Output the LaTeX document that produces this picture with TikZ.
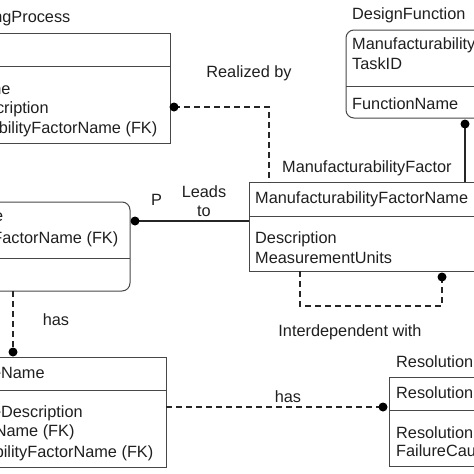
\documentclass[tikz,border=0pt]{standalone}
\usepackage{fontspec}
\setmainfont{Liberation Sans}
\usetikzlibrary{calc}

\tikzset{
  txt/.style={font=\fontsize{16.3}{20}\selectfont, inner sep=0pt, anchor=base west, text=black!88},
  ctxt/.style={txt, anchor=base},
  entbox/.style={draw=black!72, line width=1pt},
  idline/.style={draw=black!85, line width=1.3pt},
  nidline/.style={idline, dash pattern=on 6pt off 4pt},
  enddot/.style={fill=black},
}

\begin{document}
\begin{tikzpicture}[x=1pt,y=-1pt]
    \useasboundingbox (0,0) rectangle (474,474);
    \clip (0,0) rectangle (474,474);
    % ManufacturingProcess
    \node[txt] (mpT) at (-92,22) {ManufacturingProcess};
    \draw[entbox] (-98,33) rectangle (170,143);
    \draw[entbox] (-98,66) -- (170,66);
    \node[txt] (mpA) at (-92,94) {ProcessName};
    \node[txt] (mpB) at (-92,113) {ProcessDescription};
    \node[txt] (mpC) at (-92,133) {ManufacturabilityFactorName (FK)};
    % DesignFunction
    \node[txt] (dfT) at (352,19) {DesignFunction};
    \draw[entbox,rounded corners=8pt] (346,30) rectangle (500,118);
    \draw[entbox] (346,86) -- (500,86);
    \node[txt] (dfA) at (352,49) {ManufacturabilityFactorName (FK)};
    \node[txt] (dfB) at (352,69) {TaskID};
    \node[txt] (dfC) at (352,109) {FunctionName};
    % ManufacturabilityFactor
    \node[txt] (mfT) at (282,172) {ManufacturabilityFactor};
    \draw[entbox] (249,182) rectangle (484,271);
    \draw[entbox] (249,216) -- (484,216);
    \node[txt] (mfA) at (255,203) {ManufacturabilityFactorName};
    \node[txt] (mfB) at (255,243) {Description};
    \node[txt] (mfC) at (255,263) {MeasurementUnits};
    % FailureMode
    \draw[entbox,rounded corners=8pt] (-140,202) rectangle (130,291);
    \draw[entbox] (-140,258) -- (130,258);
    \node[txt] (fmA) at (-131,221) {FailureModeName};
    \node[txt] (fmB) at (-131,243) {ManufacturabilityFactorName (FK)};
    % FailureCause
    \draw[entbox] (-102,357) rectangle (166,467);
    \draw[entbox] (-102,390) -- (166,390);
    \node[txt] (fcA) at (-96,378) {FailureCauseName};
    \node[txt] (fcB) at (-96,417) {FailureCauseDescription};
    \node[txt] (fcC) at (-96,436) {FailureModeName (FK)};
    \node[txt] (fcD) at (-96,457) {ManufacturabilityFactorName (FK)};
    % Resolution
    \node[txt] (rsT) at (396,367) {Resolution};
    \draw[entbox] (389,377) rectangle (520,466);
    \draw[entbox] (389,410) -- (520,410);
    \node[txt] (rsA) at (396,398) {ResolutionName};
    \node[txt] (rsB) at (396,438) {ResolutionDescription};
    \node[txt] (rsC) at (396,456) {FailureCauseName (FK)};

    % relationship end points
    \coordinate (c0) at (174,107);
    \coordinate (c1) at (269,107);
    \coordinate (c2) at (269,182);
    \coordinate (c3) at (465,124);
    \coordinate (c4) at (465,182);
    \coordinate (c5) at (135,221);
    \coordinate (c6) at (249,221);
    \coordinate (c7) at (300,271);
    \coordinate (c8) at (442,277);
    \coordinate (c9) at (13,291);
    \coordinate (c10) at (13,352);
    \coordinate (c11) at (166,407);
    \coordinate (c12) at (383,407);

    \draw[nidline] (c0) -- (c1) -- (c2);
    \fill[enddot] (c0) circle (4.5pt);
    \node[ctxt] (lRealized) at (249,77) {Realized by};
    \draw[idline] (c3) -- (c4);
    \fill[enddot] (c3) circle (4.5pt);
    \draw[idline] (c5) -- (c6);
    \fill[enddot] (c5) circle (4.5pt);
    \node[txt] (lP) at (151,205) {P};
    \node[ctxt] (lLeads) at (204,197) {Leads};
    \node[ctxt] (lTo) at (204,216) {to};
    \draw[nidline] (c7) -- ($(c7)+(0,35)$) -- ($(c8)+(0,29)$) -- (c8);
    \fill[enddot] (c8) circle (4.5pt);
    \node[ctxt] (lInter) at (350,336) {Interdependent with};
    \draw[nidline] (c9) -- (c10);
    \fill[enddot] (c10) circle (4.5pt);
    \node[ctxt] (lHas) at (56,325) {has};
    \draw[nidline] (c11) -- (c12);
    \fill[enddot] (c12) circle (4.5pt);
    \node[ctxt] (lHasB) at (288,402) {has};
\end{tikzpicture}
\end{document}
